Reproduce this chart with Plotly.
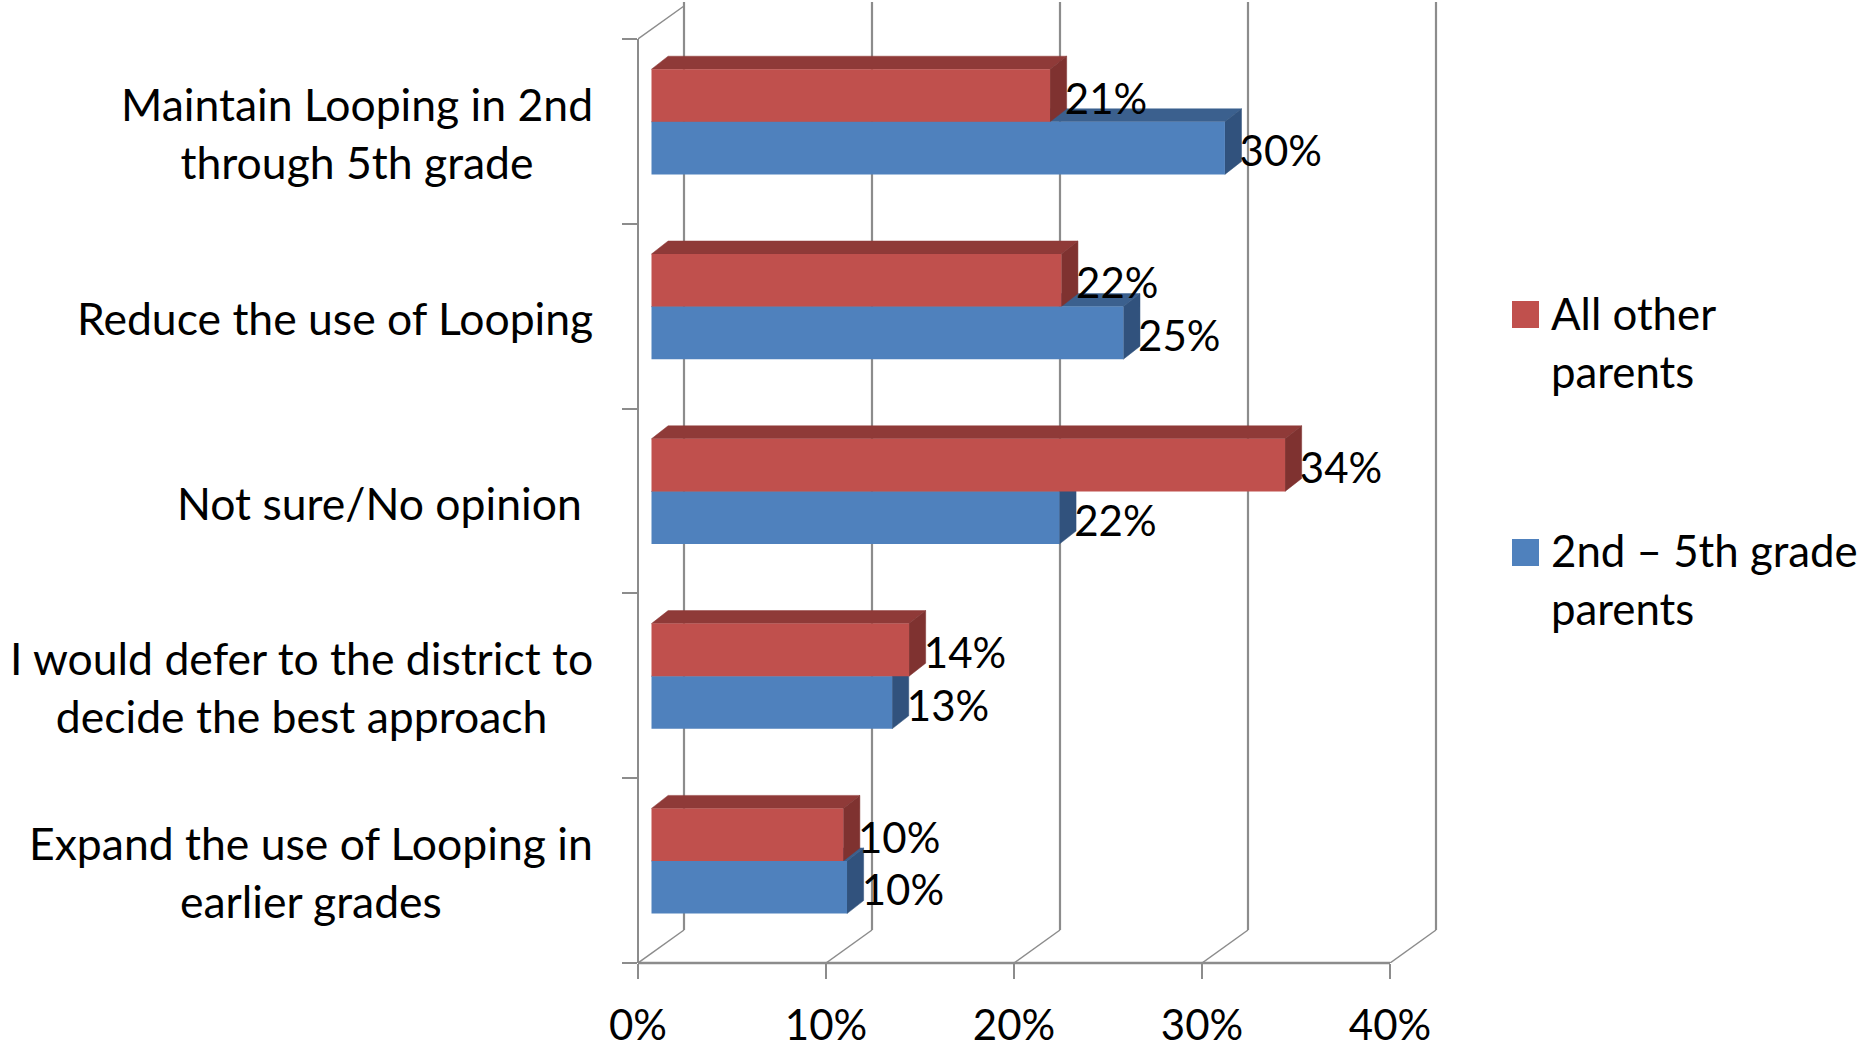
import plotly.graph_objects as go

categories = [
    "Expand the use of Looping in<br>earlier grades",
    "I would defer to the district to<br>decide the best approach",
    "Not sure/No opinion&nbsp;",
    "Reduce the use of Looping",
    "Maintain Looping in 2nd<br>through 5th grade",
]
other_parents = [10.2, 13.7, 33.7, 21.8, 21.2]
grade_parents = [10.4, 12.8, 21.7, 25.1, 30.5]
other_labels = ["10%", "14%", "34%", "22%", "21%"]
grade_labels = ["10%", "13%", "22%", "25%", "30%"]
x_ticks = [0, 10, 20, 30, 40]
x_tick_labels = ["0%", "10%", "20%", "30%", "40%"]
other_name = "All other<br>parents"
grade_name = "2nd – 5th grade<br>parents"

RED, RED_TOP, RED_SIDE = "#C0504D", "#8F3A38", "#7F3230"
BLUE, BLUE_TOP, BLUE_SIDE = "#4F81BD", "#3B608E", "#31527D"
GREY = "#8C8C8C"
FONT = "Lato"
FS = 42
CAT_FS = 44.5
LEG_FS = 43.8

W, H = 1864, 1044
L, R, T, B = 638, 424, 2, 81
PX_X = 18.8          # pixels per 1 %
PX_Y = 184.8         # pixels per category
x_max = (W - R - L) / PX_X
y_min = -0.5
y_max = (H - B - T) / PX_Y - 0.5

wall_dx = 46 / PX_X
wall_dy = 33 / PX_Y
bar_dx = 16.6 / PX_X
bar_dy = 13 / PX_Y
bar_h = 52.6 / PX_Y
bar_base = 13.5 / PX_X
group_shift = 9.6 / PX_Y
label_drop = 7.5 / PX_Y

shapes = []


def line(x0, y0, x1, y1, width=2):
    shapes.append(dict(type="line", xref="x", yref="y", x0=x0, y0=y0, x1=x1, y1=y1,
                       line=dict(color=GREY, width=width), layer="below"))


def poly(points, color):
    path = "M " + " L ".join(f"{a},{b}" for a, b in points) + " Z"
    shapes.append(dict(type="path", xref="x", yref="y", path=path, fillcolor=color,
                       line=dict(color=color, width=0.5), layer="below"))


# Back wall and floor
top_front = 4.5
for t in x_ticks:
    line(t, y_min, t + wall_dx, y_min + wall_dy, 1.5)
    line(t + wall_dx, y_min + wall_dy, t + wall_dx, y_max, 2.2)
line(0, top_front, wall_dx, top_front + wall_dy, 1.5)
# Front axis lines: paper reference on the edge so they are not clipped in half
shapes.append(dict(type="line", xref="paper", yref="y", x0=0, x1=0, y0=y_min, y1=top_front,
                   line=dict(color=GREY, width=2), layer="below"))
shapes.append(dict(type="line", xref="x", yref="paper", x0=0, x1=x_ticks[-1], y0=0, y1=0,
                   line=dict(color=GREY, width=2.5), layer="below"))

ys = list(range(len(categories)))
blue_y = [i + group_shift - bar_h / 2 for i in ys]
red_y = [i + group_shift + bar_h / 2 for i in ys]


def extrude(values, centers, top, side):
    for v, c in zip(values, centers):
        end = bar_base + v
        hi, lo = c + bar_h / 2, c - bar_h / 2
        poly([(bar_base, hi), (end, hi), (end + bar_dx, hi + bar_dy), (bar_base + bar_dx, hi + bar_dy)], top)
        poly([(end, lo), (end + bar_dx, lo + bar_dy), (end + bar_dx, hi + bar_dy), (end, hi)], side)


extrude(grade_parents, blue_y, BLUE_TOP, BLUE_SIDE)
extrude(other_parents, red_y, RED_TOP, RED_SIDE)

fig = go.Figure()
for name, vals, yy, col in [
    (grade_name, grade_parents, blue_y, BLUE),
    (other_name, other_parents, red_y, RED),
]:
    fig.add_trace(go.Bar(
        name=name.replace("<br>", " "), orientation="h", x=vals, y=yy, base=bar_base, width=bar_h,
        marker=dict(color=col, line=dict(width=0)), showlegend=False,
    ))

# Data labels
for vals, yy, labels in [
    (grade_parents, blue_y, grade_labels),
    (other_parents, red_y, other_labels),
]:
    fig.add_trace(go.Scatter(
        x=[bar_base + v + bar_dx - 0.1 for v in vals], y=[a - label_drop for a in yy], mode="text", text=labels,
        textposition="middle right", textfont=dict(family=FONT, size=FS, color="#000000"),
        showlegend=False, hoverinfo="skip", cliponaxis=False,
    ))

annotations = []
for i, c in enumerate(categories):
    annotations.append(dict(
        xref="x", yref="y", x=0, y=i, xanchor="right", yanchor="middle", xshift=-43, yshift=-1, showarrow=False,
        align="center", text=f'<span style="font-size:{CAT_FS}px">{c}</span>',
        font=dict(family=FONT, size=44.6, color="#000000"),
    ))

# Legend
for name, col, y_top, y_mid in [
    (other_name, RED, 301, 342),
    (grade_name, BLUE, 539, 579),
]:
    shapes.append(dict(type="rect", xref="paper", yref="paper",
                       x0=(1512 - L) / (W - L - R), x1=(1539 - L) / (W - L - R),
                       y0=(H - B - y_top) / (H - B - T), y1=(H - B - y_top - 27) / (H - B - T),
                       fillcolor=col, line=dict(width=0)))
    annotations.append(dict(
        xref="paper", yref="paper", x=(1549 - L) / (W - L - R), y=(H - B - y_mid) / (H - B - T),
        xanchor="left", yanchor="middle", showarrow=False, align="left",
        text=f'<span style="font-size:{LEG_FS}px">{name}</span>',
        font=dict(family=FONT, size=44.6, color="#000000"),
    ))

fig.update_layout(
    width=W, height=H, margin=dict(l=L, r=R, t=T, b=B, autoexpand=False),
    paper_bgcolor="white", plot_bgcolor="white", barmode="overlay",
    shapes=shapes, annotations=annotations, showlegend=False,
    xaxis=dict(range=[0, x_max], tickmode="array", tickvals=x_ticks, ticktext=x_tick_labels,
               ticks="outside", ticklen=15, tickwidth=1.5, tickcolor=GREY, showgrid=False, zeroline=False,
               showline=False, ticklabelstandoff=11,
               tickfont=dict(family=FONT, size=FS, color="#000000")),
    yaxis=dict(range=[y_min, y_max], tickmode="array", tickvals=[i - 0.5 for i in range(6)],
               ticks="outside", ticklen=15, tickwidth=1.5, tickcolor=GREY, showgrid=False, zeroline=False,
               showticklabels=False, showline=False),
)
fig.write_html("out.html", config={"displayModeBar": False},
               post_script="document.body.style.margin='0';window.dispatchEvent(new Event('resize'));")
